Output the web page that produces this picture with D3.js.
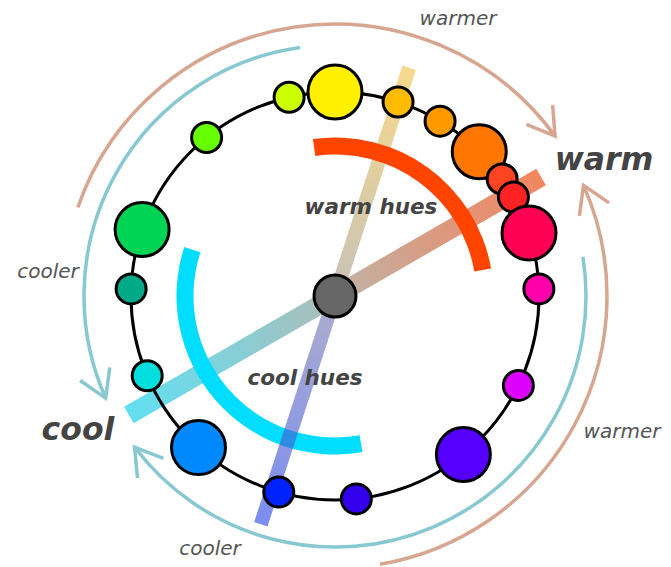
<!DOCTYPE html>
<html>
<head>
<meta charset="utf-8">
<script src="https://cdn.jsdelivr.net/npm/d3@7"></script>
<style>
  body { margin: 0; background: #fff; }
  text { font-family: "DejaVu Sans", Verdana, sans-serif; font-style: italic; }
</style>
</head>
<body>
<div id="chart"></div>
<script>
// hue wheel: colour, position on the wheel (degrees, clockwise from top) and weight
const hueColors = ['#ffef00', '#ffbb00', '#ff9900', '#ff7700', '#ff4422', '#ff2222',
  '#ff0055', '#ff00aa', '#dd00ff', '#5500ff', '#3300ee', '#0022ff',
  '#0088ff', '#00dddd', '#00aa88', '#00d455', '#66ff00', '#ccff00'];
const hueAngles = [0, 18, 31, 45, 55, 61, 72, 88, 116, 141, 174, 196, 222, 247, 272, 289, 321, 347];
const hueWeights = ['major', 'minor', 'minor', 'major', 'minor', 'minor', 'major', 'minor', 'minor',
  'major', 'minor', 'minor', 'major', 'minor', 'minor', 'major', 'minor', 'minor'];

// hue bands
const bandNames = ['warm hues', 'cool hues'];
const bandFrom = [-8, 170];
const bandTo = [80, 288];
const bandColors = ['#ff4400', '#00ddff'];

// opposing axes through the centre (angle of the first end)
const axisNames = ['warm-cool', 'yellow-blue'];
const axisAngles = [60, 18];

// direction arrows round the wheel
const arrowKinds = ['warm', 'cool', 'cool', 'warm'];
const arrowFrom = [-71, -8, 81, 170.5];
const arrowTo = [54, -114, 233, 66];
const arrowLabels = ['warmer', 'cooler', 'cooler', 'warmer'];

const width = 671, height = 567;
const cx = 335, cy = 296;
const ringR = 204, bandR = 150;

const svg = d3.select('#chart').append('svg')
  .attr('width', width).attr('height', height);

const defs = svg.append('defs');
const g = svg.append('g').attr('transform', `translate(${cx},${cy})`);

const angle = d3.scaleLinear().domain([0, 360]).range([0, 2 * Math.PI]);
const size = d3.scaleOrdinal().domain(['major', 'minor']).range([27, 15]);
const arrowColor = d3.scaleOrdinal().domain(['warm', 'cool']).range(['#d6a691', '#88c8d0']);
const arrowRadius = d3.scaleOrdinal().domain(['warm', 'cool']).range([272, 251]);

const polar = (deg, r) => [r * Math.sin(angle(deg)), -r * Math.cos(angle(deg))];

// outer arrows
arrowKinds.forEach((k, i) => {
  const r = arrowRadius(k);
  const cw = arrowTo[i] > arrowFrom[i];
  const p = d3.path();
  p.arc(0, 0, r, angle(arrowFrom[i]) - Math.PI / 2, angle(arrowTo[i]) - Math.PI / 2, !cw);
  const [tx, ty] = polar(arrowTo[i], r);
  const a = angle(arrowTo[i]);
  let dx = Math.cos(a), dy = Math.sin(a);
  if (!cw) { dx = -dx; dy = -dy; }
  const back = Math.atan2(-dy, -dx);
  const len = 31, spread = 0.55;
  p.moveTo(tx + len * Math.cos(back + spread), ty + len * Math.sin(back + spread));
  p.lineTo(tx, ty);
  p.lineTo(tx + len * Math.cos(back - spread), ty + len * Math.sin(back - spread));
  g.append('path')
    .attr('d', p.toString())
    .attr('fill', 'none')
    .attr('stroke', arrowColor(k))
    .attr('stroke-width', 3.5)
    .attr('stroke-linejoin', 'miter');
});

const band = d3.arc().innerRadius(bandR - 8.5).outerRadius(bandR + 8.5);

// axis gradients
const axisStops = [
  [['0', '#ea3d00'], ['0.25', '#c65c32'], ['0.46', '#a08069'], ['0.54', '#729993'], ['0.75', '#3cb3c0'], ['1', '#00cdea']],
  [['0', '#f3c349'], ['0.46', '#ada086'], ['0.54', '#7679b3'], ['1', '#2a47e7']]
];
const axisWidth = [19, 14];
const axisHalf = [238, 240];

function drawAxis(i) {
  const [x1, y1] = polar(axisAngles[i], axisHalf[i]);
  const [x2, y2] = polar(axisAngles[i] + 180, axisHalf[i]);
  const grad = defs.append('linearGradient')
    .attr('id', 'axis' + i)
    .attr('gradientUnits', 'userSpaceOnUse')
    .attr('x1', x1 + cx).attr('y1', y1 + cy)
    .attr('x2', x2 + cx).attr('y2', y2 + cy);
  grad.selectAll('stop').data(axisStops[i]).join('stop')
    .attr('offset', d => d[0]).attr('stop-color', d => d[1]);
  svg.append('line')
    .attr('x1', x1 + cx).attr('y1', y1 + cy)
    .attr('x2', x2 + cx).attr('y2', y2 + cy)
    .attr('stroke', `url(#axis${i})`)
    .attr('stroke-width', axisWidth[i])
    .attr('opacity', 0.62);
}

// warm-cool axis, then the cool band, then the yellow-blue axis over it
drawAxis(0);

svg.append('path')
  .attr('transform', `translate(${cx},${cy})`)
  .attr('d', band({ startAngle: angle(bandFrom[1]), endAngle: angle(bandTo[1]) }))
  .attr('fill', bandColors[1]);

drawAxis(1);

const front = svg.append('g').attr('transform', `translate(${cx},${cy})`);

// warm band over the axes
front.append('path')
  .attr('d', band({ startAngle: angle(bandFrom[0]), endAngle: angle(bandTo[0]) }))
  .attr('fill', bandColors[0]);

// ring
front.append('circle')
  .attr('r', ringR)
  .attr('fill', 'none')
  .attr('stroke', '#000')
  .attr('stroke-width', 3);

// hue dots
front.selectAll('.hue')
  .data(hueColors)
  .join('circle')
  .attr('class', 'hue')
  .attr('cx', (d, i) => polar(hueAngles[i], ringR)[0])
  .attr('cy', (d, i) => polar(hueAngles[i], ringR)[1])
  .attr('r', (d, i) => size(hueWeights[i]))
  .attr('fill', d => d)
  .attr('stroke', '#000')
  .attr('stroke-width', 3);

// centre
front.append('circle')
  .attr('r', 21)
  .attr('fill', '#666')
  .attr('stroke', '#000')
  .attr('stroke-width', 3);

// labels
const smallPos = [[458, 25], [48, 278], [210, 555], [622, 438]];
svg.selectAll('.small')
  .data(arrowLabels)
  .join('text')
  .attr('class', 'small')
  .attr('x', (d, i) => smallPos[i][0])
  .attr('y', (d, i) => smallPos[i][1])
  .attr('text-anchor', 'middle')
  .style('font-size', '20px')
  .style('fill', '#555')
  .text(d => d);

const bigLabels = ['warm', 'cool'];
const bigPos = [[604, 170], [78, 440]];
svg.selectAll('.big')
  .data(bigLabels)
  .join('text')
  .attr('class', 'big')
  .attr('x', (d, i) => bigPos[i][0])
  .attr('y', (d, i) => bigPos[i][1])
  .attr('text-anchor', 'middle')
  .style('font-size', '31.5px')
  .style('font-weight', 'bold')
  .style('fill', '#444')
  .text(d => d);

const bandPos = [[371, 214], [305, 385]];
svg.selectAll('.band')
  .data(bandNames)
  .join('text')
  .attr('class', 'band')
  .attr('x', (d, i) => bandPos[i][0])
  .attr('y', (d, i) => bandPos[i][1])
  .attr('text-anchor', 'middle')
  .style('font-size', '21.5px')
  .style('font-weight', 'bold')
  .style('fill', '#444')
  .text(d => d);
</script>
</body>
</html>
